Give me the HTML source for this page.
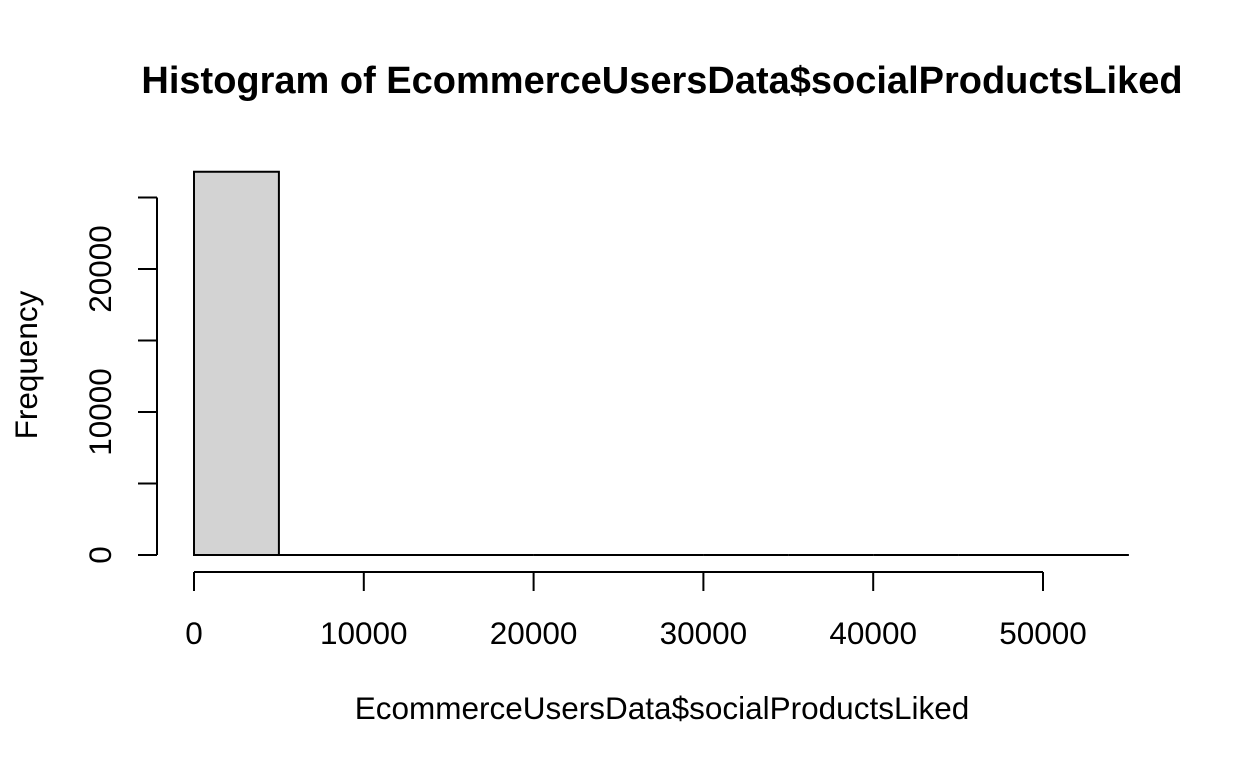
<!DOCTYPE html>
<html><head><meta charset="utf-8"><style>
body{margin:0;background:#fff;}
svg text{font-family:"Liberation Sans",Arial,sans-serif;fill:#000;}
</style></head><body>
<svg id="chart" width="1248" height="768">
<text x="662" y="93" font-size="38" font-weight="bold" text-anchor="middle">Histogram of EcommerceUsersData$socialProductsLiked</text>
<text x="662" y="719" font-size="31.5" text-anchor="middle">EcommerceUsersData$socialProductsLiked</text>
<text transform="translate(37,365) rotate(-90)" font-size="31.5" text-anchor="middle">Frequency</text>
<g id="bars"></g><g id="xaxis"></g><g id="yaxis"></g>
</svg>
<script>
const binStarts=[0,5000,10000,15000,20000,25000,30000,35000,40000,45000,50000];
const counts=[26800,3,1,0,0,0,0,0,0,0,1];
const xTicks=[0,10000,20000,30000,40000,50000];
const yTicks=[0,5000,10000,15000,20000,25000];
const yLabels=[0,10000,20000];
const binWidth=5000;
const NS="http://www.w3.org/2000/svg";
const sx=v=>194+v*(1043-194)/50000;
const sy=v=>555-v*(555-269)/20000;
function mk(t,a){const e=document.createElementNS(NS,t);for(const k in a)e.setAttribute(k,a[k]);return e;}
const bars=document.getElementById('bars');
binStarts.forEach((b,i)=>{
 const x0=sx(b),x1=sx(b+binWidth),y=sy(counts[i]);
 const r=mk('path',{d:`M${x0},555L${x0},${y}L${x1},${y}L${x1},555Z`,fill:'#d3d3d3',stroke:'#000','stroke-width':2});
 
 
 bars.appendChild(r);
});
const xa=document.getElementById('xaxis');
const xl=mk('line',{x1:sx(xTicks[0]),x2:sx(xTicks[xTicks.length-1]),y1:572,y2:572,stroke:'#000','stroke-width':2});


xa.appendChild(xl);
xTicks.forEach(v=>{
 xa.appendChild(mk('line',{x1:sx(v),x2:sx(v),y1:572,y2:591,stroke:'#000','stroke-width':2}));
 const t=mk('text',{x:sx(v),y:644,'font-size':31.5,'text-anchor':'middle'});t.textContent=v;
 
 
 xa.appendChild(t);
});
const ya=document.getElementById('yaxis');
const yl=mk('line',{x1:157,x2:157,y1:sy(yTicks[0]),y2:sy(yTicks[yTicks.length-1]),stroke:'#000','stroke-width':2});


ya.appendChild(yl);
yTicks.forEach(v=>{
 ya.appendChild(mk('line',{x1:138,x2:157,y1:sy(v),y2:sy(v),stroke:'#000','stroke-width':2}));
});
yLabels.forEach(v=>{
 const t=mk('text',{transform:`translate(111,${sy(v)}) rotate(-90)`,'font-size':31.5,'text-anchor':'middle'});t.textContent=v;
 
 
 ya.appendChild(t);
});
</script>
</body></html>
